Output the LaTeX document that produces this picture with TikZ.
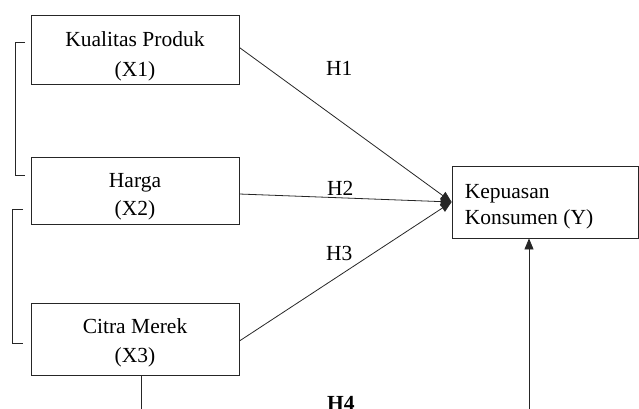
\documentclass[tikz,border=0pt]{standalone}
\usepackage{fontspec}
\setmainfont{Liberation Serif}
\usetikzlibrary{arrows.meta,calc}
\begin{document}
\begin{tikzpicture}[x=1pt,y=-1pt,
  every node/.style={font=\fontsize{21.5}{29}\selectfont},
  box/.style={draw=black!85, line width=0.8pt, rectangle, minimum width=208pt, inner sep=0pt},
  txt/.style={align=center, inner sep=0pt},
  conn/.style={draw=black!85, line width=0.8pt},
  arr/.style={conn, -{Triangle[length=11pt,width=9pt]}},
  lab/.style={anchor=base west, inner sep=0pt}]
\clip (0,0) rectangle (639,408);
\node[box, minimum height=69pt] (x1) at (135,49.5) {};
\node[txt, font=\fontsize{21.5}{30}\selectfont] (t1) at ($(x1.center)+(0,6.5)$) {Kualitas Produk\\(X1)};
\node[box, minimum height=67pt] (x2) at (135,190.5) {};
\node[txt, font=\fontsize{21.5}{28}\selectfont] (t2) at ($(x2.center)+(0,6)$) {Harga\\(X2)};
\node[box, minimum height=72pt] (x3) at (135,339) {};
\node[txt] (t3) at ($(x3.center)+(0,3.5)$) {Citra Merek\\(X3)};
\node[draw=black!85, line width=0.8pt, rectangle, minimum width=186pt, minimum height=72pt, inner sep=0pt] (y) at (545,202) {};
\node[align=left, anchor=west, inner sep=0pt, font=\fontsize{21.5}{26}\selectfont] (ty) at ($(y.west)+(13,5)$) {Kepuasan\\Konsumen (Y)};
\draw[arr] ($(x1.east)+(0,-2)$) -- (y.west);
\draw[arr] ($(x2.east)+(0,3.5)$) -- (y.west);
\draw[arr] ($(x3.east)+(0,2)$) -- (y.west);
\node[lab] (h1) at (326,75) {H1};
\node[lab] (h2) at (327,195) {H2};
\node[lab] (h3) at (326,260) {H3};
\node[lab, font=\fontsize{21.5}{29}\selectfont\bfseries] (h4) at (327,410) {H4};
\coordinate (b1) at (141,430);
\coordinate (b2) at (529,430);
\draw[conn] (b1 |- x3.south) -- (b1) -- (b2);
\draw[arr] (b2) -- (b2 |- y.south);
\draw[conn] (25,42) -- (15,42) -- (15,175) -- (25,175);
\draw[conn] (23,209) -- (12,209) -- (12,343) -- (23,343);
\end{tikzpicture}
\end{document}
